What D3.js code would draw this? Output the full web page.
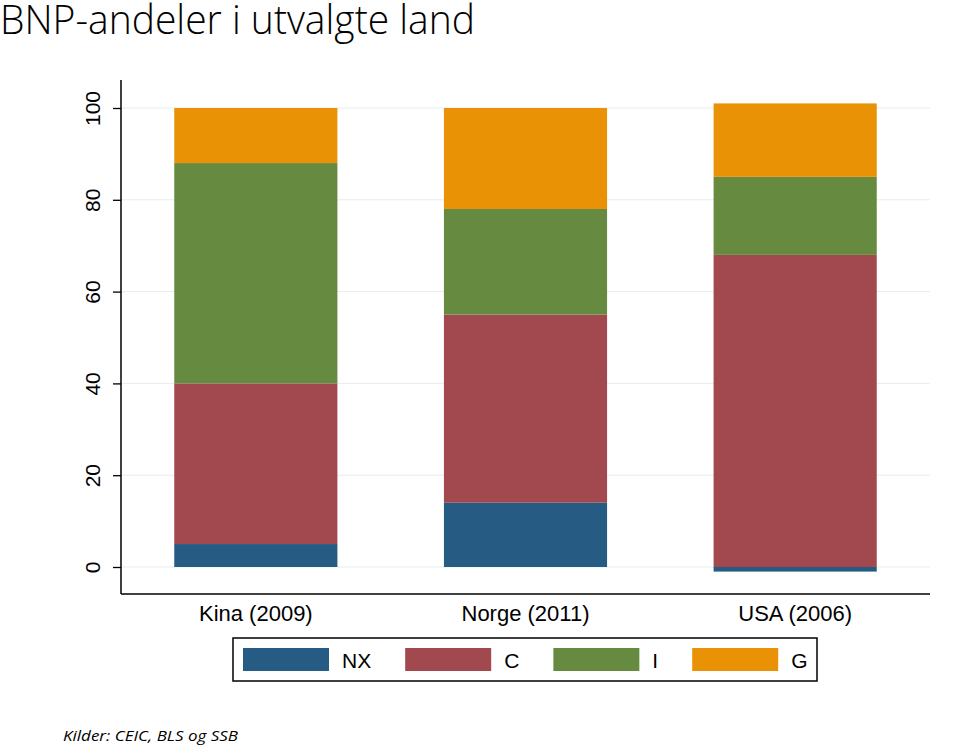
<!DOCTYPE html>
<html>
<head>
<meta charset="utf-8">
<script src="https://cdn.jsdelivr.net/npm/d3@7"></script>
<style>
  body { margin: 0; background: #fff; }
  svg { display: block; }
</style>
</head>
<body>
<svg id="chart" width="959" height="745"></svg>
<script>
// data
var countries = ["Kina (2009)", "Norge (2011)", "USA (2006)"];
var seriesKeys = ["NX", "C", "I", "G"];
var NX = [5, 14, -1];
var C  = [35, 41, 68];
var I  = [48, 23, 17];
var G  = [12, 22, 16];
var yTicks = [0, 20, 40, 60, 80, 100];

var colors = {NX: "#265b83", C: "#a2494f", I: "#668a3f", G: "#e99205"};

var svg = d3.select("#chart");

// plot region (don't call it "top", that's window.top)
var plotL = 121, plotR = 930, plotT = 80, plotB = 594;

var y = d3.scaleLinear().domain([0, 100]).range([567, 108]);
var x = d3.scaleBand().domain(countries).range([plotL, plotR])
    .paddingInner(0.395).paddingOuter(0.1975);

var sans = "'Liberation Sans', Arial, Helvetica, sans-serif";

// title + source
svg.append("text")
    .attr("x", 0).attr("y", 34)
    .attr("font-family", "'Open Sans', 'DejaVu Sans', sans-serif")
    .attr("font-weight", 300)
    .attr("font-size", 40)
    .attr("textLength", 475).attr("lengthAdjust", "spacingAndGlyphs")
    .attr("fill", "#000")
    .text("BNP-andeler i utvalgte land");

svg.append("text")
    .attr("x", 63).attr("y", 741)
    .attr("font-family", "'Open Sans', 'DejaVu Sans', sans-serif")
    .attr("font-style", "italic")
    .attr("font-size", 15)
    .attr("textLength", 175).attr("lengthAdjust", "spacingAndGlyphs")
    .text("Kilder: CEIC, BLS og SSB");

// gridlines
svg.append("g").selectAll("line").data(yTicks).join("line")
    .attr("x1", plotL + 1).attr("x2", plotR)
    .attr("y1", function(d){ return y(d); })
    .attr("y2", function(d){ return y(d); })
    .attr("stroke", "#e3edf0").attr("stroke-width", 1);

// stack, negatives go below zero
var rows = countries.map(function(c, i){
    return {country: c, NX: NX[i], C: C[i], I: I[i], G: G[i]};
});
var layers = d3.stack().keys(seriesKeys).offset(d3.stackOffsetDiverging)(rows);

svg.append("g").selectAll("g").data(layers).join("g")
    .attr("fill", function(d){ return colors[d.key]; })
    .selectAll("rect").data(function(d){ return d; }).join("rect")
    .attr("x", function(d){ return x(d.data.country); })
    .attr("width", x.bandwidth())
    .attr("y", function(d){ return y(Math.max(d[0], d[1])); })
    .attr("height", function(d){ return Math.abs(y(d[0]) - y(d[1])); });

// y axis
var gy = svg.append("g").attr("transform", "translate(" + plotL + ",0)")
    .call(d3.axisLeft(y).tickValues(yTicks).tickSize(8));
gy.select(".domain").remove();
gy.selectAll(".tick line").attr("stroke", "#000").attr("stroke-width", 1.3);
gy.selectAll(".tick text")
    .attr("font-family", sans)
    .attr("font-size", 21).attr("fill", "#000")
    .attr("transform", "rotate(-90)")
    .attr("x", 0).attr("y", -28)
    .attr("dy", "0.35em")
    .attr("text-anchor", "middle");

svg.append("line")
    .attr("x1", plotL).attr("x2", plotL).attr("y1", plotT).attr("y2", plotB)
    .attr("stroke", "#000").attr("stroke-width", 1.5);
svg.append("line")
    .attr("x1", plotL).attr("x2", plotR).attr("y1", plotB).attr("y2", plotB)
    .attr("stroke", "#000").attr("stroke-width", 1.5);

// x labels
svg.append("g").selectAll("text").data(countries).join("text")
    .attr("x", function(d){ return x(d) + x.bandwidth() / 2; })
    .attr("y", 621)
    .attr("text-anchor", "middle")
    .attr("font-family", sans)
    .attr("font-size", 22)
    .text(function(d){ return d; });

// legend, laid out left to right by label width
var legend = svg.append("g");
legend.append("rect")
    .attr("x", 233).attr("y", 638).attr("width", 584).attr("height", 43)
    .attr("fill", "#fff").attr("stroke", "#000").attr("stroke-width", 1.5);
var cx = 243;
seriesKeys.forEach(function(k){
    legend.append("rect")
        .attr("x", cx).attr("y", 648).attr("width", 86).attr("height", 23)
        .attr("fill", colors[k]);
    var t = legend.append("text")
        .attr("x", cx + 99).attr("y", 668)
        .attr("font-family", sans)
        .attr("font-size", 21)
        .text(k);
    cx = cx + 99 + t.node().getComputedTextLength() + 34;
});
</script>
</body>
</html>
